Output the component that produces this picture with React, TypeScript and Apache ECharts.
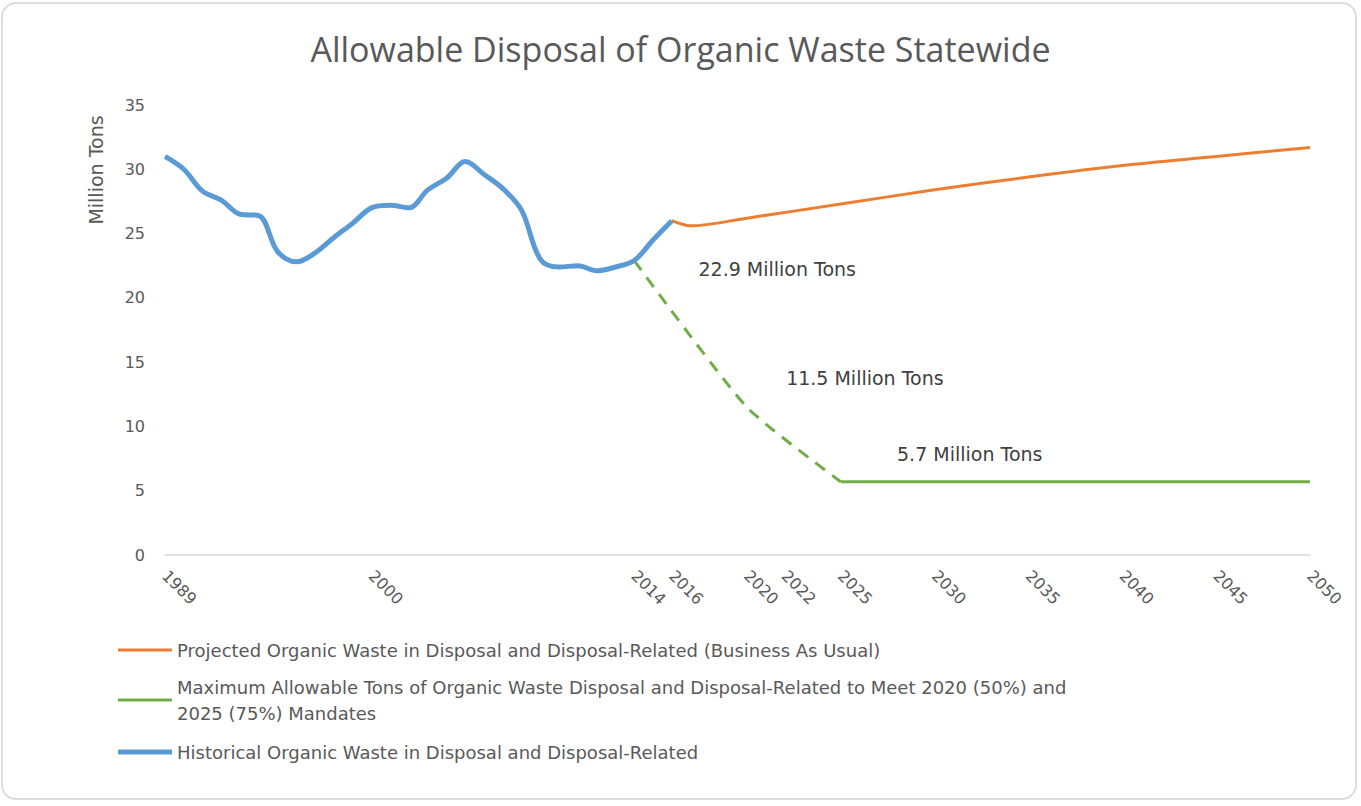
import React, { useEffect, useRef } from 'react';
import * as echarts from 'echarts';

const YEARS = [
  '1989', '1990', '1991', '1992', '1993', '1994', '1995', '1996', '1997', '1998',
  '1999', '2000', '2001', '2002', '2003', '2004', '2005', '2006', '2007', '2008',
  '2009', '2010', '2011', '2012', '2013', '2014', '2015', '2016', '2017', '2018',
  '2019', '2020', '2021', '2022', '2023', '2024', '2025', '2026', '2027', '2028',
  '2029', '2030', '2031', '2032', '2033', '2034', '2035', '2036', '2037', '2038',
  '2039', '2040', '2041', '2042', '2043', '2044', '2045', '2046', '2047', '2048',
  '2049', '2050',
];
const SHOWN_YEARS = ['1989', '2000', '2014', '2016', '2020', '2022', '2025', '2030', '2035', '2040', '2045', '2050'];

const HIST_YEARS = [
  '1989', '1990', '1991', '1992', '1993', '1994', '1995', '1996', '1997', '1998',
  '1999', '2000', '2001', '2002', '2003', '2004', '2005', '2006', '2007', '2008',
  '2009', '2010', '2011', '2012', '2013', '2014', '2015', '2016',
];
const HIST_VALUES = [
  31.0, 30.0, 28.3, 27.6, 26.5, 26.4, 23.6, 22.8, 23.5, 24.7,
  25.8, 27.0, 27.2, 27.0, 28.4, 29.3, 30.6, 29.6, 28.5, 26.8,
  23.0, 22.4, 22.5, 22.1, 22.4, 22.9, 24.5, 26.0,
];

const BAU_YEARS = ['2016', '2017', '2020', '2025', '2030', '2035', '2040', '2045', '2050'];
const BAU_VALUES = [26.0, 25.6, 26.2, 27.3, 28.4, 29.4, 30.3, 31.0, 31.7];

const MANDATE_DASH_YEARS = ['2014', '2020', '2025'];
const MANDATE_DASH_VALUES = [22.9, 11.5, 5.7];
const MANDATE_FLAT_YEARS = ['2025', '2050'];
const MANDATE_FLAT_VALUES = [5.7, 5.7];

const ANNOTATION_YEARS = ['2014', '2020', '2025'];
const ANNOTATION_VALUES = [22.9, 11.5, 5.7];
const ANNOTATION_TEXTS = ['22.9 Million Tons', '11.5 Million Tons', '5.7 Million Tons'];

const NAME_BAU = 'Projected Organic Waste in Disposal and Disposal-Related (Business As Usual)';
const NAME_MANDATE = 'Maximum Allowable Tons of Organic Waste Disposal and Disposal-Related to Meet 2020 (50%) and 2025 (75%) Mandates';
const NAME_MANDATE_DASH = 'Mandate path';
const NAME_HIST = 'Historical Organic Waste in Disposal and Disposal-Related';

const TITLE_FONT = '"Open Sans", "Noto Sans", sans-serif';
const FONT = '"DejaVu Sans", "Noto Sans", sans-serif';
const GREY = '#595959';

const pairs = (xs: string[], ys: number[]) => xs.map((x, i) => [x, ys[i]]);

export default function App() {
  const ref = useRef<HTMLDivElement>(null);

  useEffect(() => {
    if (!ref.current) return;
    const chart = echarts.init(ref.current, undefined, { renderer: 'svg' });
    const annotationOffsets = [[143, 8], [118, -29], [129, -28]];
    const legendBase = {
      orient: 'vertical',
      left: 118,
      padding: 0,
      itemWidth: 54,
      icon: 'rect',
    };
    const option: any = {
      animation: false,
      backgroundColor: '#ffffff',
      title: {
        text: 'Allowable Disposal of Organic Waste Statewide',
        left: 'center',
        top: 27,
        textStyle: { fontFamily: TITLE_FONT, fontSize: 34, fontWeight: 'normal', color: GREY },
      },
      graphic: [
        {
          type: 'rect',
          silent: true,
          z: -10,
          shape: { x: 2, y: 3, width: 1354, height: 796, r: 14 },
          style: { fill: 'none', stroke: '#d4d4d4', lineWidth: 1.5 },
        },
        {
          type: 'text',
          x: 96,
          y: 170,
          rotation: Math.PI / 2,
          style: {
            text: 'Million Tons',
            fontFamily: FONT,
            fontSize: 19,
            fill: GREY,
            align: 'center',
            verticalAlign: 'middle',
          },
        },
      ],
      legend: [
        {
          ...legendBase,
          data: [NAME_BAU],
          top: 640,
          itemHeight: 3,
          textStyle: { fontFamily: FONT, fontSize: 18, color: GREY, lineHeight: 20 },
        },
        {
          ...legendBase,
          data: [
            {
              name: NAME_MANDATE,
              textStyle: { padding: [26, 0, 0, 0] },
            },
          ],
          top: 661,
          itemHeight: 3,
          formatter: () =>
            'Maximum Allowable Tons of Organic Waste Disposal and Disposal-Related to Meet 2020 (50%) and\n2025 (75%) Mandates',
          textStyle: { fontFamily: FONT, fontSize: 18, color: GREY, lineHeight: 26 },
        },
        {
          ...legendBase,
          data: [NAME_HIST],
          top: 742,
          itemHeight: 5,
          textStyle: { fontFamily: FONT, fontSize: 18, color: GREY, lineHeight: 20 },
        },
      ],
      grid: { left: 165, right: 51, top: 105, bottom: 251, containLabel: false },
      xAxis: {
        type: 'category',
        data: YEARS,
        boundaryGap: false,
        axisLine: { lineStyle: { color: '#d9d9d9', width: 1.5 } },
        axisTick: { show: false },
        splitLine: { show: false },
        axisLabel: {
          rotate: -45,
          margin: 18,
          interval: (_i: number, v: string) => SHOWN_YEARS.includes(v),
          fontFamily: FONT,
          fontSize: 16,
          color: GREY,
        },
      },
      yAxis: {
        type: 'value',
        min: 0,
        max: 35,
        interval: 5,
        axisLine: { show: false },
        axisTick: { show: false },
        splitLine: { show: false },
        axisLabel: { fontFamily: FONT, fontSize: 16, color: GREY, margin: 20 },
      },
      series: [
        {
          name: NAME_BAU,
          type: 'line',
          data: pairs(BAU_YEARS, BAU_VALUES),
          symbol: 'none',
          smooth: 0.3,
          z: 3,
          lineStyle: { color: '#ed7d31', width: 3 },
          itemStyle: { color: '#ed7d31' },
        },
        {
          name: NAME_MANDATE_DASH,
          type: 'line',
          data: pairs(MANDATE_DASH_YEARS, MANDATE_DASH_VALUES),
          symbol: 'none',
          smooth: 0.2,
          z: 2,
          lineStyle: { color: '#70ad47', width: 3, type: [12, 9] },
          itemStyle: { color: '#70ad47' },
          markPoint: {
            symbol: 'circle',
            symbolSize: 0,
            data: ANNOTATION_YEARS.map((y, i) => ({
              coord: [y, ANNOTATION_VALUES[i]],
              label: {
                show: true,
                formatter: ANNOTATION_TEXTS[i],
                position: 'inside',
                offset: annotationOffsets[i],
                fontFamily: FONT,
                fontSize: 19,
                color: '#404040',
              },
            })),
          },
        },
        {
          name: NAME_MANDATE,
          type: 'line',
          data: pairs(MANDATE_FLAT_YEARS, MANDATE_FLAT_VALUES),
          symbol: 'none',
          z: 2,
          lineStyle: { color: '#70ad47', width: 3 },
          itemStyle: { color: '#70ad47' },
        },
        {
          name: NAME_HIST,
          type: 'line',
          data: pairs(HIST_YEARS, HIST_VALUES),
          symbol: 'none',
          smooth: 0.35,
          z: 4,
          lineStyle: { color: '#5b9bd5', width: 5 },
          itemStyle: { color: '#5b9bd5' },
        },
      ],
    };
    chart.setOption(option);
    return () => chart.dispose();
  }, []);

  return (
    <div
      ref={ref}
      style={{ position: 'absolute', left: 0, top: 0, width: 1361, height: 806, background: '#fff' }}
    />
  );
}
